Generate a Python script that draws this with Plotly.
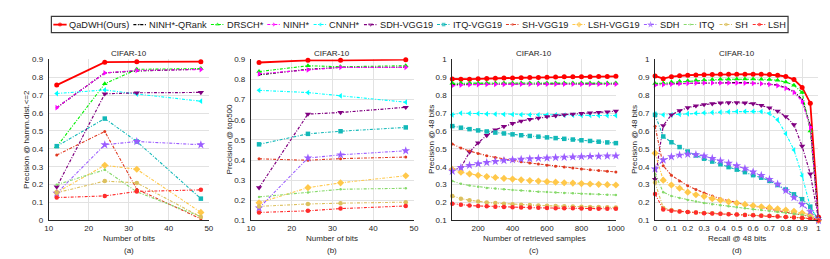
import plotly.graph_objects as go

W, H = 830, 259

# ---------------- data ----------------
SERIES = ["QaDWH(Ours)", "NINH*-QRank", "DRSCH*", "NINH*", "CNNH*", "SDH-VGG19",
          "ITQ-VGG19", "SH-VGG19", "LSH-VGG19", "SDH", "ITQ", "SH", "LSH"]

BITS = [12, 24, 32, 48]
RETRIEVED = [50, 100, 150, 200, 250, 300, 350, 400, 450, 500,
             550, 600, 650, 700, 750, 800, 850, 900, 950, 1000]
RECALL = [0, 0.05, 0.1, 0.15, 0.2, 0.25, 0.3, 0.35, 0.4, 0.45, 0.5,
          0.55, 0.6, 0.65, 0.7, 0.75, 0.8, 0.85, 0.9, 0.95, 1.0]

# (a) precision @ hamming dist <= 2
HAMM_QADWH = [0.756, 0.884, 0.886, 0.887]
HAMM_NINHQR = [0.630, 0.824, 0.835, 0.845]
HAMM_DRSCH = [0.412, 0.763, 0.844, 0.848]
HAMM_NINH = [0.630, 0.824, 0.838, 0.843]
HAMM_CNNH = [0.709, 0.729, 0.706, 0.666]
HAMM_SDHVGG = [0.187, 0.707, 0.713, 0.715]
HAMM_ITQVGG = [0.415, 0.569, 0.441, 0.122]
HAMM_SHVGG = [0.365, 0.497, 0.175, 0.009]
HAMM_LSHVGG = [0.157, 0.308, 0.286, 0.045]
HAMM_SDH = [0.152, 0.423, 0.441, 0.423]
HAMM_ITQ = [0.200, 0.283, 0.160, 0.022]
HAMM_SH = [0.155, 0.220, 0.210, 0.020]
HAMM_LSH = [0.128, 0.137, 0.162, 0.171]

# (b) precision @ top500
TOP_QADWH = [0.884, 0.895, 0.895, 0.898]
TOP_NINHQR = [0.823, 0.850, 0.860, 0.860]
TOP_DRSCH = [0.839, 0.868, 0.863, 0.868]
TOP_NINH = [0.828, 0.847, 0.860, 0.860]
TOP_CNNH = [0.746, 0.735, 0.719, 0.687]
TOP_SDHVGG = [0.263, 0.628, 0.636, 0.662]
TOP_ITQVGG = [0.478, 0.530, 0.543, 0.562]
TOP_SHVGG = [0.406, 0.399, 0.407, 0.415]
TOP_LSHVGG = [0.188, 0.263, 0.287, 0.322]
TOP_SDH = [0.162, 0.410, 0.426, 0.446]
TOP_ITQ = [0.217, 0.239, 0.255, 0.260]
TOP_SH = [0.170, 0.182, 0.186, 0.191]
TOP_LSH = [0.140, 0.148, 0.159, 0.172]

# (c) precision vs number of retrieved samples (48 bits)
RET_QADWH = [0.890, 0.888, 0.889, 0.891, 0.893, 0.894, 0.895, 0.896, 0.897, 0.898,
             0.899, 0.900, 0.901, 0.902, 0.902, 0.903, 0.903, 0.904, 0.904, 0.905]
RET_NINHQR = [0.860, 0.861, 0.862, 0.862, 0.862, 0.862, 0.862, 0.862, 0.862, 0.862,
              0.863, 0.863, 0.863, 0.863, 0.863, 0.863, 0.863, 0.863, 0.863, 0.863]
RET_DRSCH = [0.866, 0.867, 0.867, 0.868, 0.868, 0.868, 0.868, 0.868, 0.868, 0.868,
             0.868, 0.868, 0.868, 0.868, 0.868, 0.868, 0.868, 0.868, 0.868, 0.868]
RET_NINH = [0.852, 0.856, 0.858, 0.859, 0.860, 0.860, 0.860, 0.860, 0.861, 0.861,
            0.861, 0.861, 0.861, 0.861, 0.861, 0.861, 0.861, 0.861, 0.861, 0.861]
RET_CNNH = [0.690, 0.700, 0.698, 0.697, 0.695, 0.694, 0.693, 0.692, 0.691, 0.690,
            0.690, 0.689, 0.689, 0.688, 0.688, 0.687, 0.687, 0.686, 0.686, 0.686]
RET_SDHVGG = [0.383, 0.395, 0.482, 0.534, 0.575, 0.606, 0.625, 0.642, 0.655, 0.665,
              0.672, 0.680, 0.685, 0.690, 0.694, 0.698, 0.701, 0.704, 0.707, 0.710]
RET_ITQVGG = [0.627, 0.618, 0.610, 0.603, 0.597, 0.591, 0.586, 0.581, 0.576, 0.572,
              0.568, 0.564, 0.560, 0.556, 0.552, 0.548, 0.544, 0.540, 0.536, 0.532]
RET_SHVGG = [0.527, 0.505, 0.488, 0.474, 0.462, 0.452, 0.443, 0.435, 0.428, 0.421,
             0.415, 0.409, 0.403, 0.398, 0.393, 0.388, 0.383, 0.379, 0.375, 0.371]
RET_LSHVGG = [0.385, 0.370, 0.360, 0.352, 0.345, 0.340, 0.335, 0.331, 0.327, 0.323,
              0.320, 0.317, 0.314, 0.311, 0.309, 0.306, 0.304, 0.302, 0.300, 0.298]
RET_SDH = [0.375, 0.395, 0.408, 0.417, 0.424, 0.430, 0.435, 0.439, 0.442, 0.445,
           0.447, 0.449, 0.451, 0.453, 0.455, 0.457, 0.458, 0.459, 0.460, 0.461]
RET_ITQ = [0.320, 0.305, 0.295, 0.288, 0.282, 0.278, 0.274, 0.270, 0.267, 0.264,
           0.261, 0.259, 0.256, 0.254, 0.252, 0.250, 0.248, 0.246, 0.244, 0.242]
RET_SH = [0.237, 0.222, 0.213, 0.206, 0.201, 0.197, 0.194, 0.191, 0.188, 0.186,
          0.184, 0.182, 0.181, 0.180, 0.178, 0.177, 0.176, 0.175, 0.174, 0.173]
RET_LSH = [0.194, 0.188, 0.184, 0.181, 0.179, 0.177, 0.175, 0.174, 0.173, 0.172,
           0.171, 0.170, 0.169, 0.168, 0.168, 0.167, 0.166, 0.166, 0.165, 0.165]

# (d) precision-recall (48 bits)
PR_QADWH = [0.907, 0.892, 0.903, 0.908, 0.911, 0.913, 0.914, 0.915, 0.916, 0.916, 0.917,
            0.917, 0.917, 0.916, 0.915, 0.911, 0.904, 0.887, 0.843, 0.755, 0.120]
PR_NINHQR = [0.862, 0.863, 0.865, 0.867, 0.868, 0.869, 0.870, 0.870, 0.870, 0.870, 0.870,
             0.869, 0.868, 0.866, 0.862, 0.855, 0.842, 0.820, 0.775, 0.630, 0.100]
PR_DRSCH = [0.865, 0.868, 0.873, 0.877, 0.880, 0.883, 0.885, 0.887, 0.888, 0.889, 0.890,
            0.890, 0.890, 0.889, 0.887, 0.883, 0.873, 0.855, 0.815, 0.600, 0.110]
PR_NINH = [0.855, 0.858, 0.862, 0.864, 0.866, 0.867, 0.868, 0.868, 0.868, 0.868, 0.868,
           0.867, 0.866, 0.864, 0.860, 0.853, 0.838, 0.815, 0.765, 0.620, 0.100]
PR_CNNH = [0.695, 0.690, 0.690, 0.693, 0.696, 0.699, 0.701, 0.703, 0.705, 0.707, 0.708,
           0.709, 0.709, 0.708, 0.698, 0.662, 0.585, 0.494, 0.350, 0.175, 0.100]
PR_SDHVGG = [0.330, 0.630, 0.690, 0.713, 0.730, 0.740, 0.747, 0.752, 0.756, 0.758, 0.758,
             0.756, 0.752, 0.743, 0.729, 0.711, 0.680, 0.635, 0.515, 0.360, 0.110]
PR_ITQVGG = [0.690, 0.569, 0.537, 0.510, 0.485, 0.463, 0.445, 0.429, 0.414, 0.398, 0.384,
             0.370, 0.353, 0.339, 0.321, 0.298, 0.273, 0.246, 0.219, 0.177, 0.100]
PR_SHVGG = [0.626, 0.406, 0.352, 0.321, 0.294, 0.273, 0.253, 0.237, 0.222, 0.210, 0.199,
            0.189, 0.180, 0.171, 0.163, 0.155, 0.147, 0.139, 0.131, 0.122, 0.100]
PR_LSHVGG = [0.476, 0.325, 0.298, 0.280, 0.258, 0.244, 0.235, 0.222, 0.213, 0.204, 0.197,
             0.190, 0.183, 0.177, 0.172, 0.165, 0.158, 0.151, 0.142, 0.133, 0.100]
PR_SDH = [0.388, 0.438, 0.456, 0.465, 0.470, 0.468, 0.460, 0.447, 0.433, 0.420, 0.406,
          0.390, 0.371, 0.352, 0.330, 0.303, 0.267, 0.228, 0.190, 0.150, 0.100]
PR_ITQ = [0.360, 0.258, 0.237, 0.226, 0.215, 0.206, 0.198, 0.191, 0.185, 0.179, 0.174,
          0.168, 0.163, 0.158, 0.153, 0.148, 0.143, 0.138, 0.132, 0.124, 0.100]
PR_SH = [0.312, 0.170, 0.158, 0.152, 0.148, 0.145, 0.142, 0.140, 0.138, 0.136, 0.134,
         0.132, 0.130, 0.128, 0.126, 0.124, 0.121, 0.118, 0.115, 0.112, 0.100]
PR_LSH = [0.248, 0.162, 0.155, 0.150, 0.147, 0.144, 0.141, 0.139, 0.137, 0.135, 0.133,
          0.131, 0.129, 0.127, 0.125, 0.122, 0.120, 0.117, 0.114, 0.110, 0.100]

# ---------------- styles ----------------
COLORS = ["#FF0000", "#000000", "#00F000", "#FF00FF", "#00FFFF", "#800080",
          "#12B8B8", "#E03A22", "#FFC84A", "#9B5CFF", "#86D96A", "#DCC05E", "#FF2B2B"]
SYMBOLS = ["circle", "circle", "triangle-up", "triangle-right", "triangle-left",
           "triangle-down", "square", "circle", "diamond", "star", "circle", "circle", "circle"]
MSIZES = [5, 2, 5, 5, 5, 5.5, 4.5, 3, 5.5, 6.5, 2.5, 4.5, 4.5]
LWIDTHS = [1.8, 1.2, 1.1, 1.1, 1.1, 1.2, 1.1, 1.1, 1.1, 1.1, 1.1, 1.1, 1.1]
DOT = "3px,1.5px,1px,1.5px"
DASHES = ["solid"] + [DOT] * 12

FONT = "Liberation Sans, Arial, Helvetica, sans-serif"
TXT = "#262626"

panels = [
    dict(x=BITS, ys=[HAMM_QADWH, HAMM_NINHQR, HAMM_DRSCH, HAMM_NINH, HAMM_CNNH, HAMM_SDHVGG,
                     HAMM_ITQVGG, HAMM_SHVGG, HAMM_LSHVGG, HAMM_SDH, HAMM_ITQ, HAMM_SH, HAMM_LSH],
         px=(37.3, 200.0), xr=[10, 50], xt=[10, 20, 30, 40, 50], xtt=None,
         yr=[0, 0.9], yt=[0, 0.1, 0.2, 0.3, 0.4, 0.5, 0.6, 0.7, 0.8, 0.9],
         ytt=["0", "0.1", "0.2", "0.3", "0.4", "0.5", "0.6", "0.7", "0.8", "0.9"],
         xlab="Number of bits", ylab="Precision @ hamm.dist.<=2", ylx=15.3, cap="(a)"),
    dict(x=BITS, ys=[TOP_QADWH, TOP_NINHQR, TOP_DRSCH, TOP_NINH, TOP_CNNH, TOP_SDHVGG,
                     TOP_ITQVGG, TOP_SHVGG, TOP_LSHVGG, TOP_SDH, TOP_ITQ, TOP_SH, TOP_LSH],
         px=(242.7, 408.3), xr=[10, 50], xt=[10, 20, 30, 40, 50], xtt=None,
         yr=[0.1, 0.9], yt=[0.1, 0.2, 0.3, 0.4, 0.5, 0.6, 0.7, 0.8, 0.9],
         ytt=["0.1", "0.2", "0.3", "0.4", "0.5", "0.6", "0.7", "0.8", "0.9"],
         xlab="Number of bits", ylab="Precision @ top500", ylx=221, cap="(b)"),
    dict(x=RETRIEVED, ys=[RET_QADWH, RET_NINHQR, RET_DRSCH, RET_NINH, RET_CNNH, RET_SDHVGG,
                          RET_ITQVGG, RET_SHVGG, RET_LSHVGG, RET_SDH, RET_ITQ, RET_SH, RET_LSH],
         px=(447.3, 613.5), xr=[50, 1000], xt=[200, 400, 600, 800, 1000], xtt=None,
         yr=[0.1, 1.0], yt=[0.1, 0.2, 0.3, 0.4, 0.5, 0.6, 0.7, 0.8, 0.9, 1.0],
         ytt=["0.1", "0.2", "0.3", "0.4", "0.5", "0.6", "0.7", "0.8", "0.9", "1"],
         xlab="Number of retrieved samples", ylab="Precision @ 48 bits", ylx=426.7, cap="(c)"),
    dict(x=RECALL, ys=[PR_QADWH, PR_NINHQR, PR_DRSCH, PR_NINH, PR_CNNH, PR_SDHVGG,
                       PR_ITQVGG, PR_SHVGG, PR_LSHVGG, PR_SDH, PR_ITQ, PR_SH, PR_LSH],
         px=(653.3, 819.3), xr=[0, 1], xt=[0, 0.1, 0.2, 0.3, 0.4, 0.5, 0.6, 0.7, 0.8, 0.9, 1.0],
         xtt=["0", "0.1", "0.2", "0.3", "0.4", "0.5", "0.6", "0.7", "0.8", "0.9", "1"],
         yr=[0.1, 1.0], yt=[0.1, 0.2, 0.3, 0.4, 0.5, 0.6, 0.7, 0.8, 0.9, 1.0],
         ytt=["0.1", "0.2", "0.3", "0.4", "0.5", "0.6", "0.7", "0.8", "0.9", "1"],
         xlab="Recall @ 48 bits", ylab="Precision @ 48 bits", ylx=633, cap="(d)"),
]

PLOT_TOP, PLOT_BOT = 49.0, 216.0


def fx(p):
    return p / W


def fy(p):
    return 1 - p / H


fig = go.Figure()
layout = dict(width=W, height=H, margin=dict(l=0, r=0, t=0, b=0),
              paper_bgcolor="white", plot_bgcolor="rgba(0,0,0,0)",
              font=dict(family=FONT, size=8, color=TXT), showlegend=False)
annotations = []

for i, p in enumerate(panels):
    k = "" if i == 0 else str(i + 1)
    xa, ya = "x" + k, "y" + k
    layout["xaxis" + k] = dict(
        domain=[fx(p["px"][0]), fx(p["px"][1])], range=p["xr"], anchor=ya,
        tickvals=p["xt"], ticktext=p["xtt"], showgrid=True, gridcolor="#E2E2E2", gridwidth=1.2,
        showline=True, linecolor="#262626", linewidth=1, zeroline=False, ticks="",
        tickfont=dict(size=8, color=TXT), fixedrange=True)
    layout["yaxis" + k] = dict(
        domain=[fy(PLOT_BOT), fy(PLOT_TOP)], range=p["yr"], anchor=xa,
        tickvals=p["yt"], ticktext=p["ytt"], showgrid=True, gridcolor="#E2E2E2", gridwidth=1.2,
        showline=True, linecolor="#262626", linewidth=1, zeroline=False, ticks="",
        ticklabelstandoff=3, tickfont=dict(size=8, color=TXT), fixedrange=True)
    for s, name in enumerate(SERIES):
        fig.add_trace(go.Scatter(
            x=p["x"], y=p["ys"][s], name=name, mode="lines+markers", xaxis=xa, yaxis=ya,
            line=dict(color=COLORS[s], width=LWIDTHS[s], dash=DASHES[s]),
            marker=dict(symbol=SYMBOLS[s], size=MSIZES[s], color=COLORS[s], line=dict(width=0)),
            cliponaxis=False, showlegend=False))
    cx = (p["px"][0] + p["px"][1]) / 2
    annotations += [
        dict(text="CIFAR-10", x=fx(cx), y=fy(43.3), xref="paper", yref="paper",
             showarrow=False, xanchor="center", yanchor="middle", font=dict(size=8, color=TXT)),
        dict(text=p["xlab"], x=fx(cx), y=fy(235.0), xref="paper", yref="paper",
             showarrow=False, xanchor="center", yanchor="middle", font=dict(size=8, color=TXT)),
        dict(text=p["cap"], x=fx(cx), y=fy(247.3), xref="paper", yref="paper",
             showarrow=False, xanchor="center", yanchor="middle", font=dict(size=8, color=TXT)),
        dict(text=p["ylab"], x=fx(p["ylx"]), y=fy((PLOT_TOP + PLOT_BOT) / 2), xref="paper",
             yref="paper", showarrow=False, textangle=-90, xanchor="center", yanchor="middle",
             font=dict(size=8, color=TXT)),
    ]

# ---------------- legend (single row, boxed) ----------------
ARIAL = {" ": 278, "(": 333, ")": 333, "*": 389, "-": 333, ".": 278,
         "0": 556, "1": 556, "2": 556, "3": 556, "4": 556, "5": 556, "6": 556, "7": 556, "8": 556, "9": 556,
         "A": 667, "B": 667, "C": 722, "D": 722, "E": 667, "F": 611, "G": 778, "H": 722, "I": 278,
         "J": 500, "K": 667, "L": 556, "M": 833, "N": 722, "O": 778, "P": 667, "Q": 778, "R": 722,
         "S": 667, "T": 611, "U": 722, "V": 667, "W": 944, "X": 667, "Y": 667, "Z": 611,
         "a": 556, "b": 556, "c": 500, "d": 556, "e": 556, "f": 278, "g": 556, "h": 556, "i": 222,
         "j": 222, "k": 500, "l": 222, "m": 833, "n": 556, "o": 556, "p": 556, "q": 556, "r": 333,
         "s": 500, "t": 278, "u": 556, "v": 500, "w": 722, "x": 500, "y": 500, "z": 500}
LEG_FONT = 9.2
LEG_H = 24.0
layout["xaxis5"] = dict(domain=[0, 1], range=[0, W], visible=False, fixedrange=True, anchor="y5")
layout["yaxis5"] = dict(domain=[fy(LEG_H), 1], range=[LEG_H, 0], visible=False, fixedrange=True, anchor="x5")

lx = 42.0
ly = 13.0
seg = 13.5
for s, name in enumerate(SERIES):
    tw = sum(ARIAL.get(c, 556) for c in name) * LEG_FONT / 1000.0
    fig.add_trace(go.Scatter(
        x=[lx, lx + seg / 2, lx + seg], y=[ly, ly, ly], mode="lines+markers",
        xaxis="x5", yaxis="y5", hoverinfo="skip", showlegend=False, cliponaxis=False,
        line=dict(color=COLORS[s], width=LWIDTHS[s], dash=DASHES[s]),
        marker=dict(symbol=SYMBOLS[s], size=[0, MSIZES[s] * 0.8, 0], color=COLORS[s],
                    line=dict(width=0))))
    annotations.append(dict(text=name, x=lx + 15.0, y=ly, xref="x5", yref="y5", showarrow=False,
                            xanchor="left", yanchor="middle", borderpad=0,
                            font=dict(size=LEG_FONT, color="#1a1a1a")))
    lx = lx + 15.0 + tw + 6.0

layout["shapes"] = [dict(type="rect", xref="x5", yref="y5", x0=40.0, x1=lx - 3.0, y0=4.6, y1=21.4,
                         line=dict(color="#3a3a3a", width=1.2), fillcolor="rgba(0,0,0,0)", layer="below")]
layout["annotations"] = annotations
fig.update_layout(**layout)

fig.write_html("out.html")
